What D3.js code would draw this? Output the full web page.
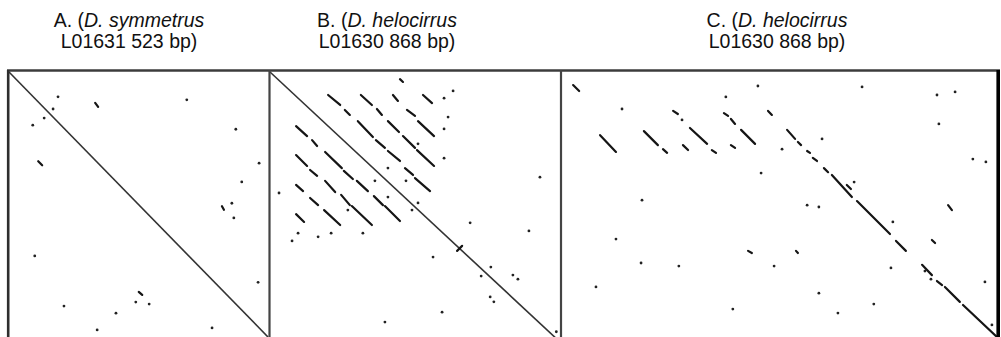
<!DOCTYPE html>
<html lang="en">
<head>
    <meta charset="UTF-8">
    <title>Dot plots</title>
    <style>
        body { margin: 0; background: #fff; }
        svg { display: block; }
        .title { font-family: "Liberation Sans", Arial, Helvetica, sans-serif; font-size: 19.5px; fill: #111; }
    </style>
</head>
<body>
<div id="chart"></div>

<script src="https://cdn.jsdelivr.net/npm/d3@7"></script>
<script>
  // titles: [plain part, italic part] for line 1, then line 2
  const titleLine1 = [["A. (", "D. symmetrus"], ["B. (", "D. helocirrus"], ["C. (", "D. helocirrus"]];
  const titleLine2 = ["L01631 523 bp)", "L01630 868 bp)", "L01630 868 bp)"];

  // sequence lengths (bp) on each axis
  const lengthX = [523, 868, 1370];
  const lengthY = [523, 868, 868];

  // main identity diagonals (A and B are self comparisons)
  const diagA = [0, 0, 523, 523];
  const diagB = [0, 0, 868, 868];

  // match segments [x1, y1, x2, y2] in bp
  const segsA = [[174,61,180,69],[59,176,67,184],[262,434,269,440],[430,265,434,272]];
  const dotsA = [[99,49],[89,73],[71,91],[48,105],[52,363],[256,454],[283,458],[111,462],[216,476],
    [178,509],[359,55],[458,113],[505,180],[470,217],[450,259],[454,288],[503,415],[410,505]];

  const segsB = [[389,23,398,32],[174,74,210,106],[224,122,239,138],[272,74,305,106],[320,119,335,138],
    [368,74,383,93],[458,74,485,100],[410,122,434,141],[263,158,308,209],[317,219,344,244],
    [353,158,386,193],[443,158,491,206],[398,206,434,244],[440,251,491,302],[353,254,389,286],
    [404,309,428,331],[434,341,479,383],[165,257,215,309],[221,318,248,344],[260,350,293,383],
    [311,399,338,428],[344,431,389,479],[213,395,239,428],[245,431,305,492],[162,444,210,492],
    [78,174,111,206],[126,219,141,238],[78,267,111,302],[120,315,141,334],[165,350,195,386],
    [78,363,99,383],[120,405,144,428],[78,457,102,482],[560,575,575,559]];
  const dotsB = [[521,84],[548,61],[533,145],[521,183],[443,231],[521,277],[353,309],[407,350],[314,350],
    [353,402],[443,421],[425,444],[233,444],[278,518],[599,485],[488,595],[661,627],[632,656],
    [659,723],[670,739],[515,772],[344,804],[27,389],[84,518],[144,530],[183,518],[66,543],
    [808,338],[775,511],[727,653],[742,666],[857,835]];

  const segsC = [[35,42,54,61],[120,203,170,257],[258,190,302,235],[403,180,457,231],[564,186,608,231],
    [709,186,734,215],[743,225,753,235],[772,254,781,260],[790,276,803,286],[825,309,838,322],
    [850,331,913,402],[897,363,910,376],[929,415,1033,521],[1052,543,1083,575],[1134,620,1165,653],
    [1181,672,1197,685],[1206,691,1253,739],[1263,749,1370,852],[350,125,365,135],[510,132,523,141],
    [532,151,545,167],[649,125,661,138],[381,235,397,251],[472,251,485,260],[532,235,545,244],
    [586,575,598,582],[737,575,743,582],[1165,540,1175,550],[1216,428,1228,444],[318,248,331,260]];
  const dotsC = [[189,119],[617,45],[516,80],[378,154],[693,248],[819,215],[627,325],[772,428],[809,434],
    [368,624],[668,624],[809,711],[538,762],[945,48],[1181,74],[1238,64],[1187,167],[1294,280],
    [1335,289],[920,354],[1042,482],[1036,630],[1143,640],[1162,666],[1332,675],[982,746],
    [869,775],[1354,813],[252,412],[170,537],[249,614],[107,691]];

  const width = 1001, height = 337;
  const plotTop = 72;
  const panels = [
    { x0: 9,   x1: 268, y1: 337, titleX: 129, diag: diagA, segs: segsA, dots: dotsA },
    { x0: 270, x1: 560, y1: 342, titleX: 387, diag: diagB, segs: segsB, dots: dotsB },
    { x0: 562, x1: 997, y1: 342, titleX: 777, diag: null,  segs: segsC, dots: dotsC }
  ];

  const svg = d3.select('#chart').append('svg')
    .attr('width', width).attr('height', height);

  panels.forEach((p, i) => {
    const x = d3.scaleLinear().domain([0, lengthX[i]]).range([p.x0, p.x1]);
    const y = d3.scaleLinear().domain([0, lengthY[i]]).range([plotTop, p.y1]);

    // titles
    const t1 = svg.append('text').attr('class', 'title')
      .attr('x', p.titleX).attr('y', 27).attr('text-anchor', 'middle');
    t1.append('tspan').text(titleLine1[i][0]);
    t1.append('tspan').attr('font-style', 'italic').text(titleLine1[i][1]);
    svg.append('text').attr('class', 'title')
      .attr('x', p.titleX).attr('y', 48).attr('text-anchor', 'middle')
      .text(titleLine2[i]);

    svg.append('clipPath').attr('id', 'clip' + i)
      .append('rect').attr('x', p.x0 - 1).attr('y', plotTop - 1)
      .attr('width', p.x1 - p.x0 + 2).attr('height', height - plotTop + 1);

    const g = svg.append('g').attr('clip-path', `url(#clip${i})`);

    if (p.diag) {
      g.append('line')
        .attr('x1', x(p.diag[0])).attr('y1', y(p.diag[1]))
        .attr('x2', x(p.diag[2])).attr('y2', y(p.diag[3]))
        .attr('stroke', '#333').attr('stroke-width', 1.6);
    }

    g.selectAll('line.seg').data(p.segs).enter().append('line')
      .attr('class', 'seg')
      .attr('x1', d => x(d[0])).attr('y1', d => y(d[1]))
      .attr('x2', d => x(d[2])).attr('y2', d => y(d[3]))
      .attr('stroke', '#151515').attr('stroke-width', 2.2)
      .attr('stroke-linecap', 'round');

    g.selectAll('circle').data(p.dots).enter().append('circle')
      .attr('cx', d => x(d[0])).attr('cy', d => y(d[1]))
      .attr('r', 1.4).attr('fill', '#222');
  });

  // frame: top rule, left edge, dividers, heavy right edge
  svg.append('line').attr('x1', 7).attr('x2', 1000).attr('y1', 70.5).attr('y2', 70.5)
    .attr('stroke', '#3c3c3c').attr('stroke-width', 2.6);
  svg.append('line').attr('x1', 8.2).attr('x2', 8.2).attr('y1', 70).attr('y2', height)
    .attr('stroke', '#2e2e2e').attr('stroke-width', 2.6);
  [269.5, 561].forEach(xd => {
    svg.append('line').attr('x1', xd).attr('x2', xd).attr('y1', 70).attr('y2', height)
      .attr('stroke', '#444').attr('stroke-width', 2.2);
  });
  svg.append('line').attr('x1', 998.2).attr('x2', 998.2).attr('y1', 70).attr('y2', height)
    .attr('stroke', '#000').attr('stroke-width', 3.6);
</script>
</body>
</html>
